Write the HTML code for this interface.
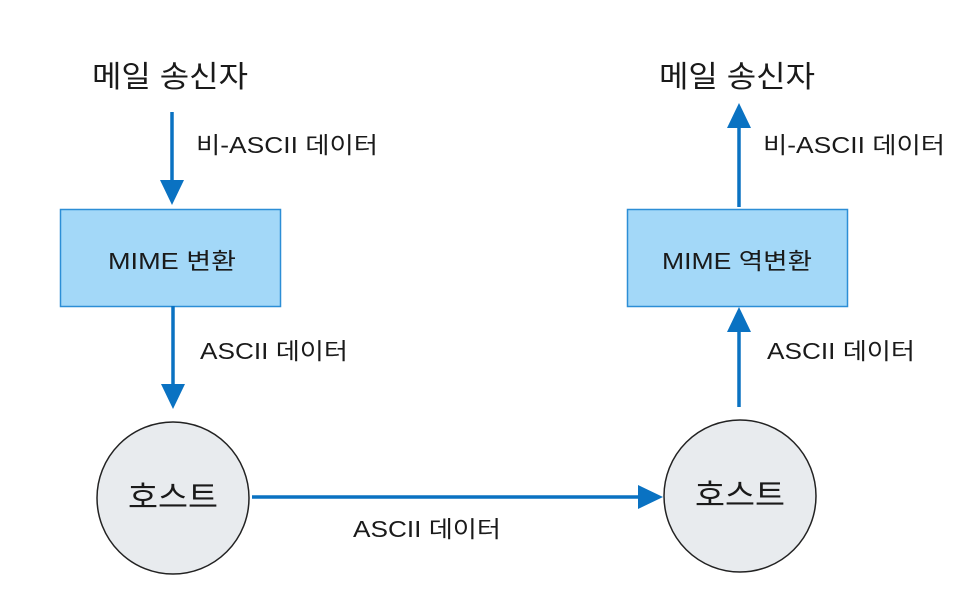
<!DOCTYPE html>
<html><head><meta charset="utf-8"><style>
body{margin:0;background:#fff;}
</style></head><body>
<svg width="979" height="590" xmlns="http://www.w3.org/2000/svg" style="font-family:'Liberation Sans','Noto Sans CJK KR',sans-serif;">
<g fill="#1a1a1a">
<text x="92" y="87" font-size="30" textLength="156" lengthAdjust="spacingAndGlyphs">메일 송신자</text>
<text x="659" y="87" font-size="30" textLength="156" lengthAdjust="spacingAndGlyphs">메일 송신자</text>
<text x="196" y="153" font-size="23" textLength="182" lengthAdjust="spacingAndGlyphs">비-ASCII 데이터</text>
<text x="763" y="153" font-size="23" textLength="182" lengthAdjust="spacingAndGlyphs">비-ASCII 데이터</text>
<text x="200" y="359" font-size="23" textLength="148" lengthAdjust="spacingAndGlyphs">ASCII 데이터</text>
<text x="767" y="359" font-size="23" textLength="148" lengthAdjust="spacingAndGlyphs">ASCII 데이터</text>
<text x="353" y="537" font-size="23" textLength="148" lengthAdjust="spacingAndGlyphs">ASCII 데이터</text>
</g>
<rect x="60.5" y="209.5" width="220" height="97" fill="#a3d8f8" stroke="#2c8ed6" stroke-width="1.5"/>
<rect x="627.5" y="209.5" width="220" height="97" fill="#a3d8f8" stroke="#2c8ed6" stroke-width="1.5"/>
<text x="108" y="269" font-size="23" fill="#1a1a1a" textLength="128" lengthAdjust="spacingAndGlyphs">MIME 변환</text>
<text x="662" y="269" font-size="23" fill="#1a1a1a" textLength="150" lengthAdjust="spacingAndGlyphs">MIME 역변환</text>
<circle cx="173" cy="498" r="76" fill="#e8ebee" stroke="#222" stroke-width="1.5"/>
<circle cx="740" cy="496" r="76" fill="#e8ebee" stroke="#222" stroke-width="1.5"/>
<text x="128" y="508" font-size="31" fill="#1a1a1a" textLength="90" lengthAdjust="spacingAndGlyphs">호스트</text>
<text x="695" y="506" font-size="31" fill="#1a1a1a" textLength="90" lengthAdjust="spacingAndGlyphs">호스트</text>
<g stroke="#0a72c2" stroke-width="3.5" fill="none">
<line x1="172" y1="112" x2="172" y2="180"/>
<line x1="173" y1="306" x2="173" y2="384"/>
<line x1="252" y1="497" x2="638" y2="497"/>
<line x1="739" y1="407" x2="739" y2="332"/>
<line x1="739" y1="207" x2="739" y2="128"/>
</g>
<g fill="#0a72c2">
<path d="M160,180 L184,180 L172,205z"/>
<path d="M161,384 L185,384 L173,409z"/>
<path d="M638,485 L638,509 L663,497z"/>
<path d="M727,332 L751,332 L739,307z"/>
<path d="M727,128 L751,128 L739,103z"/>
</g>
</svg>
</body></html>
